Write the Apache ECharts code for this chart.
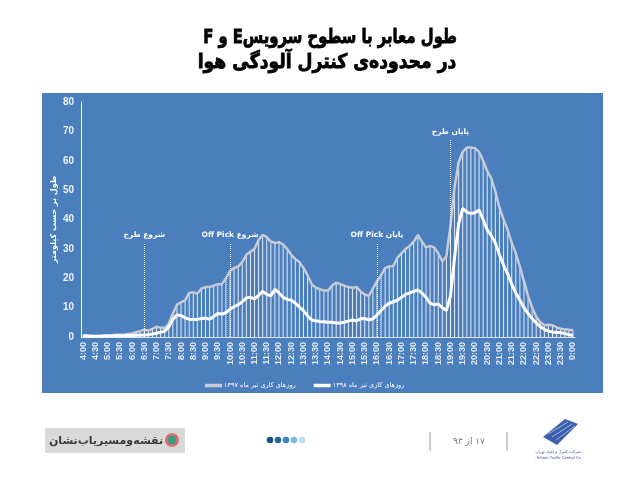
<!DOCTYPE html>
<html dir="rtl">
<head>
<meta charset="utf-8">
<script src="https://cdn.jsdelivr.net/npm/echarts@6/dist/echarts.min.js"></script>
<style>html,body{margin:0;padding:0;background:#fff}#c{width:636px;height:483px}</style>
</head>
<body>
<div id="c"></div>
<script>
var categories = ['4:00','4:10','4:20','4:30','4:40','4:50','5:00','5:10','5:20','5:30','5:40','5:50',
'6:00','6:10','6:20','6:30','6:40','6:50','7:00','7:10','7:20','7:30','7:40','7:50',
'8:00','8:10','8:20','8:30','8:40','8:50','9:00','9:10','9:20','9:30','9:40','9:50',
'10:00','10:10','10:20','10:30','10:40','10:50','11:00','11:10','11:20','11:30','11:40','11:50',
'12:00','12:10','12:20','12:30','12:40','12:50','13:00','13:10','13:20','13:30','13:40','13:50',
'14:00','14:10','14:20','14:30','14:40','14:50','15:00','15:10','15:20','15:30','15:40','15:50',
'16:00','16:10','16:20','16:30','16:40','16:50','17:00','17:10','17:20','17:30','17:40','17:50',
'18:00','18:10','18:20','18:30','18:40','18:50','19:00','19:10','19:20','19:30','19:40','19:50',
'20:00','20:10','20:20','20:30','20:40','20:50','21:00','21:10','21:20','21:30','21:40','21:50',
'22:00','22:10','22:20','22:30','22:40','22:50','23:00','23:10','23:20','23:30','23:40','23:50','0:00'];

var series1397 = [0.6,0.5,0.4,0.4,0.4,0.5,0.5,0.6,0.8,0.8,
0.8,1.0,1.2,1.6,2.0,2.5,2.2,2.8,3.5,3.2,
3.0,4.5,8.0,11.0,11.8,12.5,15.0,15.2,14.8,16.5,
17.0,17.0,17.5,18.0,18.0,20.0,22.5,23.5,24.0,25.5,
28.0,29.0,30.0,33.0,34.8,34.0,32.5,32.0,32.3,31.5,
30.0,28.0,26.5,25.5,23.5,21.0,18.0,16.8,16.3,15.8,
15.8,17.5,18.5,18.0,17.5,17.0,16.8,17.0,15.5,14.5,
14.0,16.5,19.0,21.0,23.5,24.0,24.2,27.0,28.5,30.0,
31.0,32.5,34.8,32.5,30.5,31.0,30.5,28.5,25.8,27.5,
38.0,51.0,59.5,63.0,64.5,64.5,64.3,63.0,60.0,56.5,
54.0,49.5,44.0,40.0,36.5,32.0,28.5,24.0,19.0,14.0,
10.0,7.0,5.0,4.0,4.2,4.0,3.3,2.8,2.6,2.5,
2.3];

var series1398 = [0.3,0.3,0.2,0.2,0.2,0.3,0.3,0.3,0.4,0.4,
0.4,0.5,0.5,0.6,0.6,0.7,0.8,1.0,1.3,1.6,
2.0,3.5,6.0,7.5,7.3,6.5,6.0,6.0,6.0,6.3,
6.5,6.0,7.0,8.0,7.8,8.3,9.5,10.3,11.0,12.0,
13.3,13.5,13.0,14.2,15.5,14.5,14.0,16.2,15.0,13.5,
12.8,12.5,11.5,10.2,9.0,7.2,5.8,5.5,5.3,5.2,
5.0,5.0,4.8,4.8,5.0,5.5,5.8,5.5,6.2,6.3,
5.8,6.2,7.5,9.0,10.5,11.5,12.0,12.5,13.5,14.5,
15.0,15.5,16.0,15.0,13.5,11.5,11.0,11.2,10.0,9.0,
14.0,27.0,38.5,43.8,42.5,42.0,42.3,43.2,40.0,36.5,
34.5,32.0,28.0,24.5,21.5,18.0,15.0,12.5,10.0,8.0,
6.3,4.8,3.5,2.6,2.0,1.7,1.5,1.5,1.2,0.8,
0.5];

var seriesNames = ['روزهای کاری تیر ماه ۱۳۹۷', 'روزهای کاری تیر ماه ۱۳۹۸'];
var yTicks = [0, 10, 20, 30, 40, 50, 60, 70, 80];
var markerTimes = ['6:30', '10:00', '16:00', '19:00'];
var markerTops = [32, 32, 32, 67];
var markerLabels = ['شروع طرح', 'شروع Off Pick', 'پایان Off Pick', 'پایان طرح'];
var titleLines = ['طول معابر با سطوح سرویسE و F', 'در محدوده‌ی کنترل آلودگی هوا'];
var yAxisTitle = 'طول بر حسب کیلومتر';
var pageText = '۱۷ از ۹۳';
var logoText = 'نقشه‌ومسیریاب‌نشان';

var fa = '"DejaVu Sans", "Noto Sans", sans-serif';
var lat = '"Liberation Sans", Arial, sans-serif';

var markData = markerTimes.map(function (t, i) {
  return [{ coord: [t, 0] }, { coord: [t, markerTops[i]], label: { formatter: markerLabels[i] } }];
});

var chart = echarts.init(document.getElementById('c'), null, { renderer: 'canvas' });
chart.setOption({
  animation: false,
  backgroundColor: '#ffffff',
  graphic: [
    { type: 'rect', z: -10, shape: { x: 42, y: 93, width: 561, height: 300 }, style: { fill: '#4a7ebd' } },
    { type: 'text', x: 330, y: 38, scaleX: 0.74, style: { text: titleLines[0], fill: '#000', stroke: '#000', lineWidth: 0.8, font: 'bold 20px ' + fa, textAlign: 'center', textVerticalAlign: 'middle' } },
    { type: 'text', x: 327, y: 63, scaleX: 0.86, style: { text: titleLines[1], fill: '#000', stroke: '#000', lineWidth: 0.8, font: 'bold 20px ' + fa, textAlign: 'center', textVerticalAlign: 'middle' } },
    { type: 'rect', shape: { x: 45, y: 428, width: 140, height: 25 }, style: { fill: '#d9d9d9' } },
    { type: 'text', x: 106, y: 441, style: { text: logoText, fill: '#3a3a3a', font: 'bold 11px ' + fa, textAlign: 'center', textVerticalAlign: 'middle' } },
    { type: 'circle', shape: { cx: 172, cy: 440, r: 7 }, style: { fill: '#e36b7b' } },
    { type: 'circle', shape: { cx: 172, cy: 440, r: 4.5 }, style: { fill: '#3aa17e' } },
    { type: 'circle', shape: { cx: 270, cy: 440, r: 3.3 }, style: { fill: '#1e4f7d' } },
    { type: 'circle', shape: { cx: 278, cy: 440, r: 3.3 }, style: { fill: '#2866a3' } },
    { type: 'circle', shape: { cx: 286, cy: 440, r: 3.3 }, style: { fill: '#3a83c6' } },
    { type: 'circle', shape: { cx: 294, cy: 440, r: 3.3 }, style: { fill: '#7ab6e3' } },
    { type: 'circle', shape: { cx: 302, cy: 440, r: 3.3 }, style: { fill: '#b8dcf3' } },
    { type: 'line', shape: { x1: 430, y1: 432, x2: 430, y2: 451 }, style: { stroke: '#9a9a9a', lineWidth: 1 } },
    { type: 'line', shape: { x1: 507, y1: 432, x2: 507, y2: 451 }, style: { stroke: '#9a9a9a', lineWidth: 1 } },
    { type: 'text', x: 469, y: 442, style: { text: pageText, fill: '#777', font: '9px ' + fa, textAlign: 'center', textVerticalAlign: 'middle' } },
    { type: 'polygon', shape: { points: [[565, 419], [578, 424], [557, 445], [543, 437]] }, style: { fill: '#3c5fae' } },
    { type: 'line', shape: { x1: 548, y1: 434, x2: 568, y2: 422 }, style: { stroke: '#b9c8e8', lineWidth: 0.8 } },
    { type: 'line', shape: { x1: 552, y1: 437, x2: 572, y2: 424 }, style: { stroke: '#b9c8e8', lineWidth: 0.8 } },
    { type: 'line', shape: { x1: 556, y1: 440, x2: 575, y2: 426 }, style: { stroke: '#b9c8e8', lineWidth: 0.8 } },
    { type: 'text', x: 558, y: 452, style: { text: 'شرکت کنترل ترافیک تهران', fill: '#34508f', font: '4px ' + fa, textAlign: 'center', textVerticalAlign: 'middle' } },
    { type: 'text', x: 558, y: 458, style: { text: 'Tehran Traffic Control Co.', fill: '#34508f', font: '4px ' + lat, textAlign: 'center', textVerticalAlign: 'middle' } }
  ],
  legend: {
    data: seriesNames,
    left: 200,
    top: 377,
    itemWidth: 17,
    itemHeight: 3.5,
    itemGap: 18,
    icon: 'rect',
    textStyle: { color: '#ffffff', fontSize: 6.5, fontFamily: fa, padding: [0, 0, 0, -3] }
  },
  grid: { left: 81, right: 61, top: 102, bottom: 146, containLabel: false },
  xAxis: {
    type: 'category',
    data: categories,
    boundaryGap: true,
    axisLine: { lineStyle: { color: '#dfe6f0', width: 1 } },
    axisTick: { show: false },
    axisLabel: { interval: 2, rotate: 90, color: '#e6ecf4', fontSize: 9, fontWeight: 'bold', fontFamily: lat, margin: 5 }
  },
  yAxis: {
    type: 'value',
    min: 0, max: 80, interval: 10,
    name: yAxisTitle,
    nameLocation: 'middle',
    nameRotate: 90,
    nameGap: 23,
    nameMoveOverlap: false,
    nameTextStyle: { color: '#ffffff', fontSize: 8, fontWeight: 'bold', fontFamily: fa },
    axisLine: { show: true, lineStyle: { color: '#ffffff', width: 1 } },
    axisTick: { show: false },
    splitLine: { show: false },
    axisLabel: { color: '#eef2f8', fontSize: 10, fontWeight: 'bold', fontFamily: lat, margin: 7,
      formatter: function (v) { return yTicks.indexOf(v) >= 0 ? String(v) : ''; } }
  },
  series: [
    {
      name: 'bars', type: 'bar', data: series1397, barWidth: 1, z: 1,
      itemStyle: { color: 'rgba(255,255,255,0.85)' }, silent: true
    },
    {
      name: seriesNames[0], type: 'line', data: series1397, symbol: 'none', smooth: false, z: 2,
      lineStyle: { color: '#c6cbd6', width: 2.5 }, itemStyle: { color: '#c6cbd6' },
      markLine: {
        silent: true, symbol: 'none',
        lineStyle: { type: 'dotted', color: '#ffffff', width: 1 },
        label: { show: true, position: 'end', color: '#ffffff', fontSize: 7.5, fontWeight: 'bold', fontFamily: fa, distance: 4 },
        data: markData
      }
    },
    {
      name: seriesNames[1], type: 'line', data: series1398, symbol: 'none', smooth: false, z: 3,
      lineStyle: { color: '#ffffff', width: 3 }, itemStyle: { color: '#ffffff' }
    }
  ]
});
</script>
</body>
</html>
